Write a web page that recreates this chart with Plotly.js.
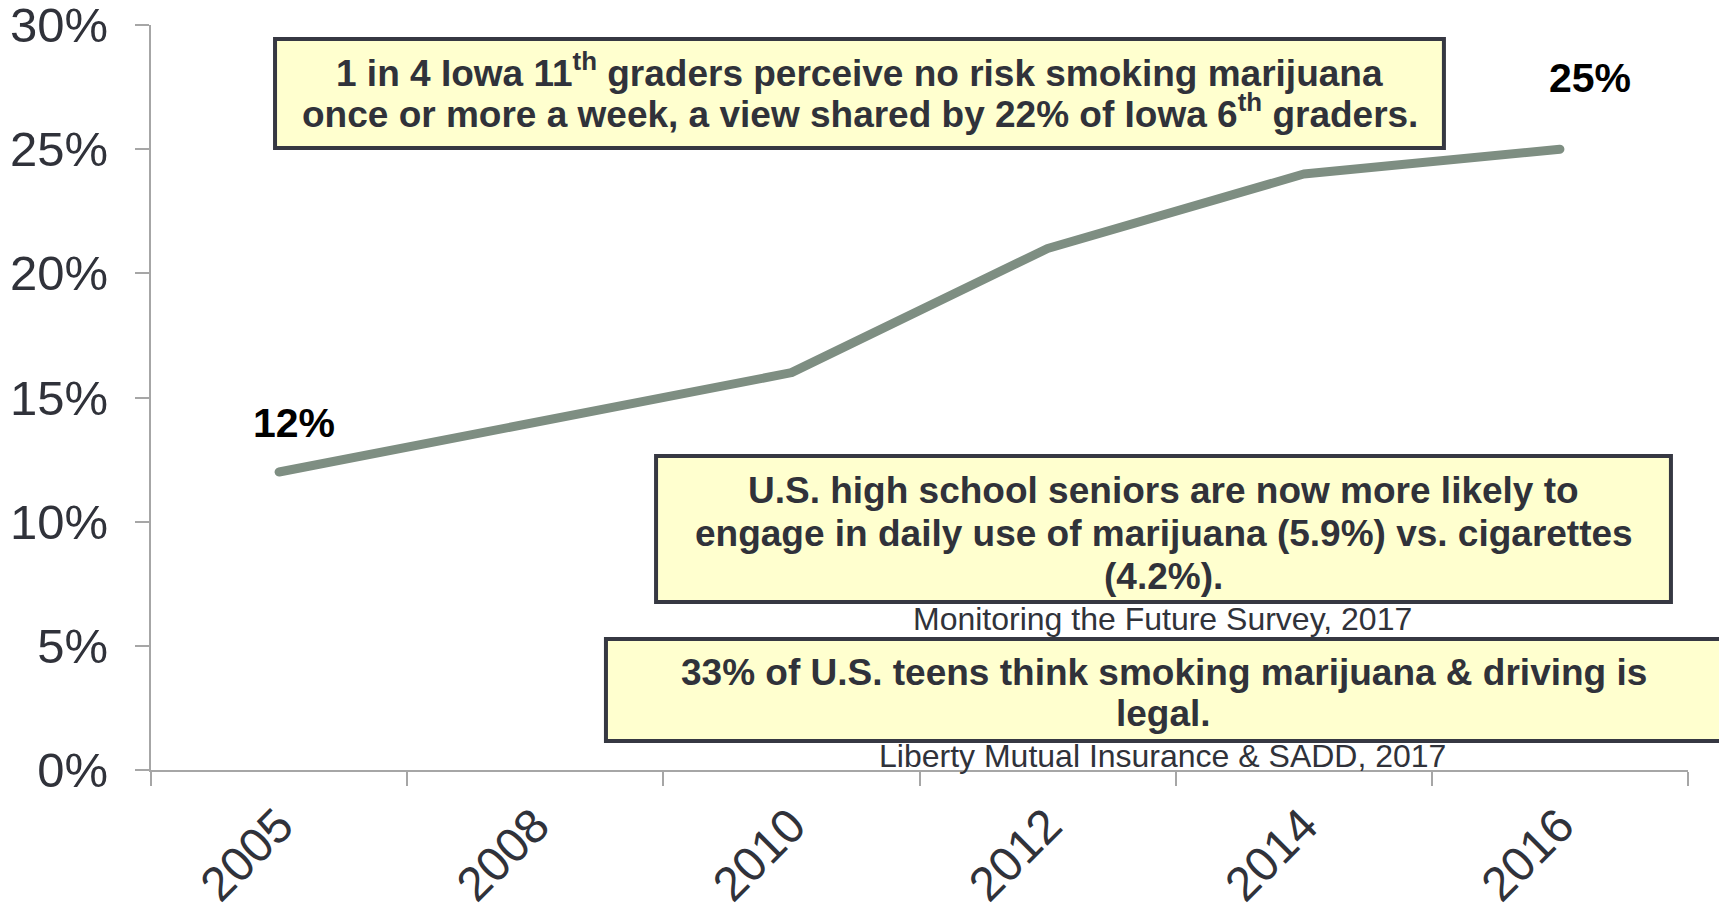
<!DOCTYPE html>
<html>
<head>
<meta charset="utf-8">
<script src="https://cdn.plot.ly/plotly-3.0.1.min.js"></script>
<style>
  html, body { margin: 0; padding: 0; background: #ffffff; }
  #chart { width: 1719px; height: 907px; }
  .scatterlayer .js-line { stroke-linecap: round !important; stroke-linejoin: round !important; }
</style>
</head>
<body>
<div id="chart"></div>
<script>
// ---- data ----
const years = ['2005', '2008', '2010', '2012', '2014', '2016'];
const noRiskPct = [12, 14, 16, 21, 24, 25];
const yTickValues = [0, 5, 10, 15, 20, 25, 30];
const yTickLabels = ['0%', '5%', '10%', '15%', '20%', '25%', '30%'];
const labelledPoints = [0, 5]; // indices of points with value labels

const box1Lines = [
  '<b>1 in 4 Iowa 11<sup>th</sup> graders perceive no risk smoking marijuana</b>',
  '<b>once or more a week, a view shared by 22% of Iowa 6<sup>th</sup> graders.</b>'
];
const box2Lines = [
  '<b>U.S. high school seniors are now more likely to</b>',
  '<b>engage in daily use of marijuana (5.9%) vs. cigarettes</b>',
  '<b>(4.2%).</b>'
];
const box2Source = 'Monitoring the Future Survey, 2017';
const box3Lines = [
  '<b>33% of U.S. teens think smoking marijuana &amp; driving is</b>',
  '<b>legal.</b>'
];
const box3Source = 'Liberty Mutual Insurance &amp; SADD, 2017';

// ---- styling ----
const FONT = '"Liberation Sans", Arial, sans-serif';
const TEXT_DARK = '#30323a';
const BOX_FILL = '#ffffcf';
const BOX_LINE = '#363842';

function box(x0, x1, y0, y1) {
  return {
    type: 'rect', xref: 'paper', yref: 'paper', layer: 'above',
    x0: x0, x1: x1, y0: y0, y1: y1,
    fillcolor: BOX_FILL, line: { color: BOX_LINE, width: 4 }
  };
}
function textLine(t, x, y, size) {
  return {
    xref: 'paper', yref: 'paper', x: x, y: y,
    xanchor: 'center', yanchor: 'middle', showarrow: false,
    text: t, font: { family: FONT, size: size, color: TEXT_DARK }
  };
}

const annotations = [];
box1Lines.forEach((t, i) => annotations.push(textLine(t, 0.461, [0.9384, 0.8836][i], 37)));
box2Lines.forEach((t, i) => annotations.push(textLine(t, 0.6588, [0.3758, 0.3181, 0.2591][i], 37)));
annotations.push(textLine(box2Source, 0.6584, 0.2030, 32));
box3Lines.forEach((t, i) => annotations.push(textLine(t, 0.6588, [0.1315, 0.0752][i], 37)));
annotations.push(textLine(box3Source, 0.6584, 0.0188, 32));

const labelShifts = [[15, 49], [30, 71]];
labelledPoints.forEach((idx, k) => {
  annotations.push({
    xref: 'x', yref: 'y', x: idx, y: noRiskPct[idx],
    xshift: labelShifts[k][0], yshift: labelShifts[k][1],
    xanchor: 'center', yanchor: 'middle', showarrow: false,
    text: '<b>' + noRiskPct[idx] + '%</b>',
    font: { family: FONT, size: 41, color: '#000000' }
  });
});

const trace = {
  type: 'scatter', mode: 'lines',
  x: years, y: noRiskPct,
  line: { color: '#7e8e82', width: 9 },
  hoverinfo: 'skip'
};

const layout = {
  width: 1719, height: 907,
  margin: { l: 151, r: 31, t: 25, b: 137 },
  paper_bgcolor: '#ffffff', plot_bgcolor: '#ffffff',
  showlegend: false,
  font: { family: FONT, color: TEXT_DARK },
  xaxis: {
    type: 'category', range: [-0.5, 5.5], tickson: 'boundaries',
    showline: true, linecolor: '#a6a6a6', linewidth: 2,
    ticks: 'outside', ticklen: 14, tickwidth: 2, tickcolor: '#a6a6a6',
    showgrid: false, zeroline: false, ticklabeloverflow: 'allow',
    tickangle: -45, tickfont: { family: FONT, size: 48, color: TEXT_DARK },
    ticklabelstandoff: 6
  },
  yaxis: {
    range: [0, 30], tickmode: 'array', tickvals: yTickValues, ticktext: yTickLabels,
    showline: true, linecolor: '#a6a6a6', linewidth: 2,
    ticks: 'outside', ticklen: 14, tickwidth: 2, tickcolor: '#a6a6a6',
    showgrid: false, zeroline: false, ticklabeloverflow: 'allow',
    tickfont: { family: FONT, size: 49, color: TEXT_DARK },
    ticklabelstandoff: 17
  },
  shapes: [
    box(0.0807, 0.8412, 0.8349, 0.9812),
    box(0.3286, 0.9889, 0.2255, 0.4215),
    box(0.2960, 1.0221, 0.0389, 0.1758)
  ],
  annotations: annotations
};

Plotly.newPlot('chart', [trace], layout, { displayModeBar: false, staticPlot: true });
</script>
</body>
</html>
